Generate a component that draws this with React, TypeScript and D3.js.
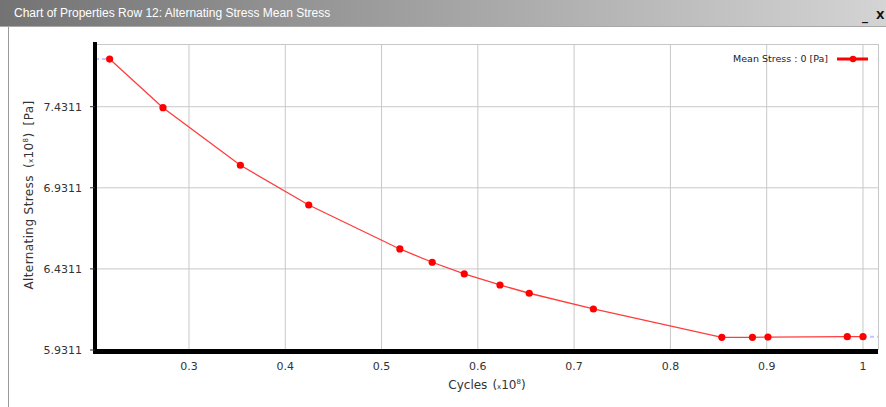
import React from 'react';
import * as d3 from 'd3';

const cycles = [0.2176, 0.273, 0.3534, 0.4244, 0.519, 0.5526, 0.5859, 0.623, 0.6534, 0.72, 0.8534, 0.8852, 0.9013, 0.9837, 1.0];
const stress = [7.725, 7.425, 7.07, 6.825, 6.554, 6.472, 6.4, 6.332, 6.281, 6.184, 6.009, 6.009, 6.011, 6.013, 6.013];
const xTicks = [0.3, 0.4, 0.5, 0.6, 0.7, 0.8, 0.9, 1];
const yTicks = [5.9311, 6.4311, 6.9311, 7.4311];
const title = 'Chart of Properties Row 12: Alternating Stress Mean Stress';
const legendLabel = 'Mean Stress : 0 [Pa]';

const W = 886;
const H = 407;
const plot = { left: 95, right: 878, top: 44, bottom: 350 };

export default function App() {
  const x = d3.scaleLinear().domain([0.2024, 1.0156]).range([plot.left, plot.right]);
  const y = d3.scaleLinear().domain([5.9311, 7.8177]).range([plot.bottom, plot.top]);

  const pts = cycles.map((c, i) => ({ c, s: stress[i] }));
  const line = d3.line<{ c: number; s: number }>().x(d => x(d.c)).y(d => y(d.s));
  const first = pts[0];
  const last = pts[pts.length - 1];
  const font = 'DejaVu Sans, sans-serif';

  return (
    <svg width={W} height={H} style={{ position: 'absolute', left: 0, top: 0 }}>
      <defs>
        <linearGradient id="tb" x1="0" x2="1" y1="0" y2="0">
          <stop offset="0" stopColor="#737373" />
          <stop offset="1" stopColor="#d4d4d4" />
        </linearGradient>
      </defs>
      <rect width={W} height={H} fill="#fff" />
      {/* window frame */}
      <rect x={8.5} y={26.5} width={W} height={H} fill="#fff" stroke="#9a9a9a" />
      <rect x={0} y={0} width={W} height={26} fill="url(#tb)" />
      <line x1={0} x2={W} y1={26.5} y2={26.5} stroke="#a8a8a8" />
      <text x={14} y={17} fill="#fff" fontFamily="Liberation Sans, sans-serif" fontSize={12}>{title}</text>
      <text x={862} y={20} fill="#111" fontFamily={font} fontSize={12} fontWeight="bold">_</text>
      <text x={876} y={19} fill="#111" fontFamily={font} fontSize={11} fontWeight="bold">X</text>

      {/* grid */}
      {xTicks.map(t => (
        <line key={'gx' + t} x1={x(t)} x2={x(t)} y1={plot.top} y2={plot.bottom} stroke="#c8c8c8" />
      ))}
      {yTicks.map(t => (
        <line key={'gy' + t} x1={plot.left} x2={plot.right} y1={y(t)} y2={y(t)} stroke="#c8c8c8" />
      ))}
      <line x1={plot.left} x2={plot.right} y1={plot.top + 0.5} y2={plot.top + 0.5} stroke="#c8c8c8" />
      <line x1={plot.right + 0.5} x2={plot.right + 0.5} y1={plot.top} y2={plot.bottom} stroke="#c8c8c8" />

      {/* extension dashes */}
      <line x1={plot.left} x2={x(first.c)} y1={y(first.s)} y2={y(first.s)} stroke="#c4c4ff" strokeWidth={2} strokeDasharray="4 3" />
      <line x1={x(last.c)} x2={plot.right} y1={y(last.s)} y2={y(last.s)} stroke="#c4c4ff" strokeWidth={2} strokeDasharray="4 3" />

      {/* series */}
      <path d={line(pts) ?? ''} fill="none" stroke="#ff3c3c" strokeWidth={1.3} />
      {pts.map((d, i) => (
        <circle key={i} cx={x(d.c)} cy={y(d.s)} r={3.6} fill="#ff0000" />
      ))}

      {/* axes */}
      <line x1={plot.left} x2={plot.left} y1={plot.top - 2} y2={plot.bottom + 4} stroke="#000" strokeWidth={4} />
      <line x1={plot.left - 2} x2={plot.right} y1={plot.bottom + 1.5} y2={plot.bottom + 1.5} stroke="#000" strokeWidth={5} />
      {yTicks.map(t => (
        <g key={'yt' + t}>
          <line x1={plot.left - 5} x2={plot.left} y1={y(t)} y2={y(t)} stroke="#333" />
          <text x={82} y={y(t) + 4} textAnchor="end" fontFamily={font} fontSize={11} fill="#333">{t.toFixed(4)}</text>
        </g>
      ))}
      {xTicks.map(t => (
        <text key={'xt' + t} x={x(t)} y={370} textAnchor="middle" fontFamily={font} fontSize={11} fill="#333">{String(t)}</text>
      ))}

      {/* axis titles */}
      <text x={487} y={389} textAnchor="middle" fontFamily={font} fontSize={12} fill="#333">
        Cycles<tspan dx={5}>(</tspan><tspan fontSize={7}>x</tspan>10<tspan fontSize={7} dy={-5}>8</tspan><tspan dy={5}>)</tspan>
      </text>
      <text transform="translate(33,195) rotate(-90)" textAnchor="middle" fontFamily={font} fontSize={12} fill="#333" letterSpacing={0.4}>
        Alternating Stress<tspan dx={7}>(</tspan><tspan fontSize={7}>x</tspan>10<tspan fontSize={7} dy={-5}>8</tspan><tspan dy={5}>)</tspan><tspan dx={7}>[Pa]</tspan>
      </text>

      {/* legend */}
      <text x={828} y={62} textAnchor="end" fontFamily={font} fontSize={9.5} fill="#222">{legendLabel}</text>
      <line x1={837} x2={868} y1={59} y2={59} stroke="#ff0000" strokeWidth={3} />
      <circle cx={853} cy={59} r={3.2} fill="#ff0000" />
    </svg>
  );
}
